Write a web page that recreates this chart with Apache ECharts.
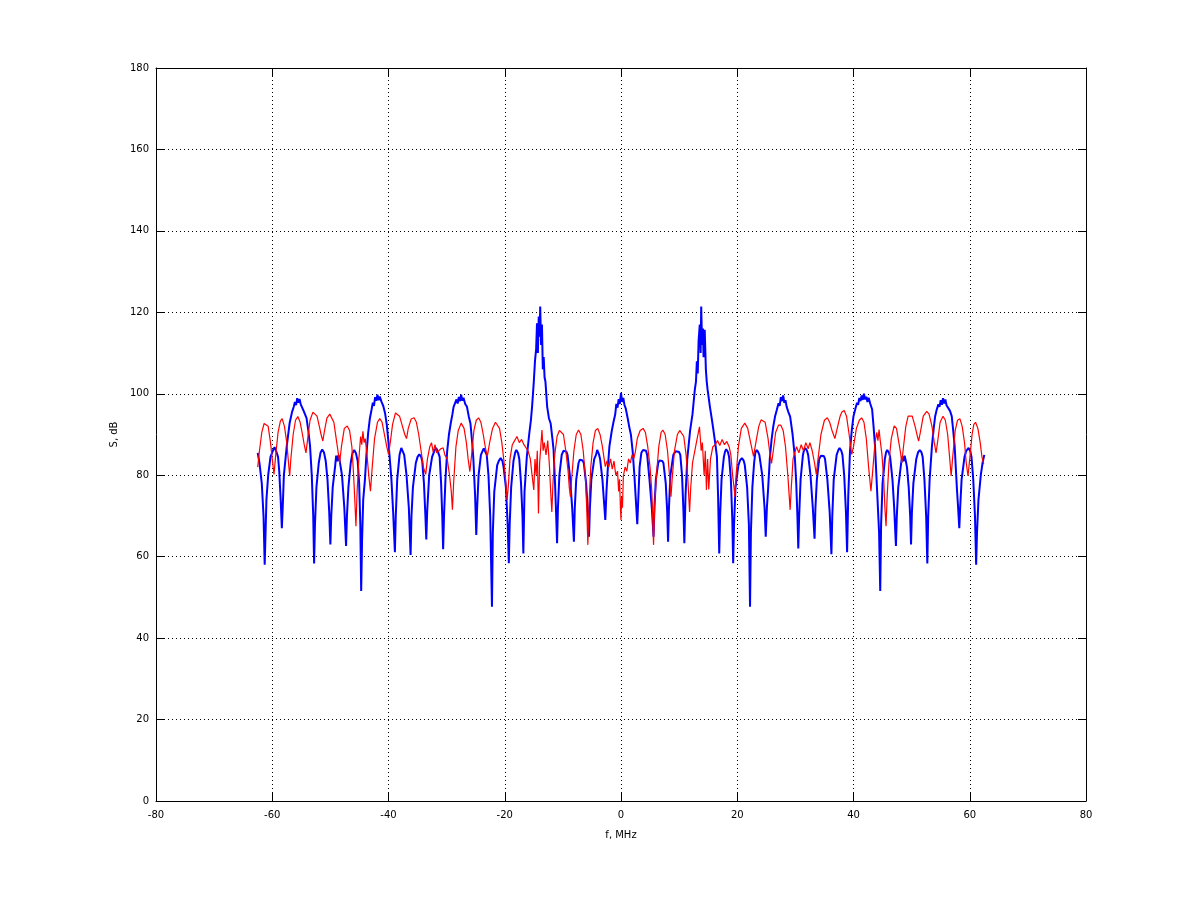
<!DOCTYPE html>
<html>
<head>
<meta charset="utf-8">
<title>S, dB</title>
<script src="https://cdn.jsdelivr.net/npm/echarts@6/dist/echarts.min.js"></script>
<style>
  html, body { margin: 0; padding: 0; background: #fff; }
  #main { width: 1200px; height: 901px; }
</style>
</head>
<body>
<div id="main"></div>
<script>
// axis ticks
var xTicks = [-80, 80, 20];
var yTicks = [0, 180, 20];

// blue trace, f (MHz) vs S (dB), negative side
var blueLeft = [
  [-62.5,85.5],[-62.2,83],[-61.8,78],[-61.5,70],[-61.3,58],[-61.15,66],[-61.0,74],[-60.7,80],[-60.3,84.5],[-59.9,86],[-59.6,86.9],[-59.3,85.8],[-59.0,84.5],[-58.8,81],[-58.55,74],[-58.35,67],[-58.2,72],[-58.0,80],
  [-57.5,87.2],[-57.0,92.9],[-56.6,95.5],[-56.3,96.8],[-56.1,98],[-55.9,97.2],[-55.7,98.9],[-55.5,97.8],[-55.3,98.7],[-55.1,97.4],[-54.9,97.6],[-54.6,95.8],[-54.1,94],[-53.8,91],[-53.5,87.2],[-53.2,80],[-52.95,70],[-52.8,58.3],
  [-52.65,68],[-52.4,77],[-52.0,83],[-51.7,85.5],[-51.4,86.3],[-51.1,85.6],[-50.8,83.5],[-50.5,79],[-50.2,71],[-50.0,63],[-49.85,70],[-49.6,77],[-49.2,82],[-49.0,84.8],[-48.8,83.4],[-48.6,85],[-48.4,83.6],[-48.0,80],[-47.6,72],[-47.3,62.6],
  [-47.15,70],[-46.9,77],[-46.5,83],[-46.2,85.4],[-45.9,86.2],[-45.6,85.4],[-45.3,83.5],[-45.05,78],[-44.85,68],[-44.7,51.6],[-44.55,64],[-44.35,74],[-44.05,79],[-43.8,85],[-43.5,90.4],[-43.2,94],[-42.9,96.2],[-42.7,97.8],[-42.5,97],
  [-42.3,99.2],[-42.1,98.3],[-41.9,99.8],[-41.7,98.4],[-41.5,99.3],[-41.2,98],[-40.9,97],[-40.6,95.3],[-40.3,92.5],[-40.0,88],[-39.5,79],[-39.2,71],[-38.9,61.1],[-38.75,70],[-38.5,79],[-38.1,85],[-37.8,86.7],[-37.3,85],[-36.9,80],[-36.5,72],
  [-36.2,60.4],[-36.05,70],[-35.8,77],[-35.3,83],[-35.0,84.5],[-34.7,85.1],[-34.4,84.6],[-34.2,83.5],[-33.9,78],[-33.65,70],[-33.5,64.2],[-33.35,71],[-33.0,80],[-32.5,84.5],[-32.1,86],[-31.8,86.7],[-31.5,85.8],[-31.2,84.5],[-30.95,78],[-30.75,70],[-30.6,61.8],
  [-30.45,70],[-30.2,79],[-29.9,86],[-29.6,90],[-29.3,92.7],[-29.0,95],[-28.8,96.8],[-28.5,97.2],[-28.3,98.6],[-28.1,97.6],[-27.9,99.2],[-27.7,98.2],[-27.5,99.8],[-27.3,98.3],[-27.1,99],[-26.8,97.5],[-26.5,96.8],[-26.2,94.5],[-25.9,92.7],[-25.6,88],[-25.4,84],[-25.1,75],[-24.9,65.3],
  [-24.75,72],[-24.5,80],[-24.1,85],[-23.8,86],[-23.6,86.6],[-23.3,85.6],[-23.1,85],[-22.8,80],[-22.5,70],[-22.2,47.7],[-22.05,66],[-21.8,76],[-21.3,82.5],[-21.0,83.6],[-20.7,84.2],[-20.4,83.5],[-20.2,82],[-19.8,77],[-19.5,68],[-19.3,58.4],
  [-19.15,68],[-18.9,77],[-18.5,83.5],[-18.2,85.6],[-18.0,86.2],[-17.7,85.4],[-17.5,84],[-17.2,78],[-16.95,70],[-16.8,60.8],[-16.6,76],[-16.2,84.6],[-15.8,90],[-15.5,93.5],[-15.3,96.8],[-15.0,103],[-14.8,108],[-14.6,111],[-14.45,117.3],
  [-14.3,110],[-14.15,119],[-14.0,114],[-13.9,121.4],[-13.75,112],[-13.6,117],[-13.45,106],[-13.3,109],[-13.15,104],[-13.0,103],[-12.7,96.8],[-12.4,94],[-12.1,92.7],[-11.8,89],[-11.6,86.2],[-11.35,78],[-11.15,70],[-11.0,63.3],
  [-10.85,72],[-10.6,80],[-10.2,85],[-9.9,86],[-9.7,86.4],[-9.4,85.8],[-9.2,85],[-8.8,80],[-8.4,72],[-8.1,63.7],[-7.95,72],[-7.7,79],[-7.3,83],[-7.1,83.8],[-6.9,84.2],[-6.6,83.6],[-6.4,83],[-6.0,78],[-5.7,71],[-5.5,64.9],
  [-5.35,72],[-5.1,79],[-4.6,84],[-4.3,85],[-4.1,86.2],[-3.8,85.2],[-3.6,84],[-3.2,79],[-2.9,73],[-2.7,69],[-2.5,76],[-2.3,81],[-2.0,87],[-1.6,90.8],[-1.3,93],[-1.0,94.9],[-0.8,97.5],[-0.6,96.6],[-0.4,98.7],[-0.2,97.5],[0.0,100.2]
];

// blue trace, positive side
var blueRight = [
  [0.2,98],[0.4,99],[0.6,97.2],[0.8,96.5],[1.15,94],[1.4,92],[1.7,90],[2.0,86],[2.3,80],[2.55,74],[2.8,68],[3.0,75],[3.2,82],[3.5,85.5],[3.8,86.2],[4.0,86.6],[4.3,86],[4.5,85],[4.9,79],[5.3,72],[5.6,64.9],
  [5.75,72],[6.0,79],[6.4,83],[6.6,83.6],[6.8,83.9],[7.1,83.5],[7.3,83],[7.7,78],[7.95,71],[8.1,63.7],[8.25,72],[8.5,80],[9.0,85],[9.4,85.9],[9.7,86.2],[10.0,85.7],[10.2,85],[10.5,80],[10.75,71],[10.9,63.3],
  [11.1,75],[11.4,84],[11.9,91.1],[12.3,95],[12.7,101],[12.9,103],[13.05,108],[13.2,105],[13.35,113],[13.55,117],[13.7,110],[13.8,121.4],[13.95,112],[14.1,116],[14.2,109],[14.4,115.7],[14.6,106],[14.75,103],[14.9,101],
  [15.3,96.8],[15.6,94],[15.9,91.1],[16.2,88],[16.5,84.6],[16.7,75],[16.9,60.8],[17.05,70],[17.3,79],[17.7,84.5],[17.9,85.8],[18.1,86.4],[18.4,85.7],[18.6,84.5],[18.9,79],[19.15,69],[19.3,58.4],
  [19.45,68],[19.7,77],[20.2,82.5],[20.5,83.7],[20.8,84.2],[21.1,83.6],[21.3,82.5],[21.7,77],[22.0,68],[22.2,47.7],[22.35,66],[22.6,77],[22.9,83],[23.1,85.4],[23.3,86.2],[23.6,85.7],[23.8,85],[24.3,80],[24.7,72],[24.9,64.9],
  [25.1,72],[25.3,76.4],[25.6,84],[25.9,88.7],[26.2,92],[26.5,94.4],[26.8,96],[27.1,97.7],[27.3,97],[27.5,99.2],[27.7,98.2],[27.9,99.6],[28.1,97.8],[28.3,98.4],[28.5,96.8],[28.8,95.5],[29.1,94.4],[29.5,90.3],[29.9,84.6],[30.15,78],[30.35,70],[30.5,62],
  [30.65,70],[30.9,79],[31.3,85],[31.5,86.2],[31.7,86.7],[32.0,86],[32.2,85],[32.6,80],[33.0,72],[33.3,64.4],[33.45,72],[33.7,79],[34.1,84],[34.4,84.8],[34.6,85.1],[34.9,84.7],[35.1,84],[35.5,79],[35.9,71],[36.2,60.6],
  [36.35,70],[36.6,79],[37.1,85],[37.4,86.2],[37.6,86.7],[37.9,86],[38.1,85],[38.4,80],[38.7,71],[38.9,61.1],[39.1,75],[39.4,86],[39.7,91],[40.0,94.5],[40.3,96.2],[40.6,97.8],[40.8,97.3],[41.0,99],[41.2,98.2],[41.4,99.6],
  [41.6,98.5],[41.8,100],[42.0,98.6],[42.2,99.3],[42.4,98],[42.6,99],[42.9,97.5],[43.2,96.2],[43.45,92],[43.7,87.2],[44.1,75],[44.4,66],[44.6,51.6],[44.75,68],[45.0,78],[45.4,84],[45.6,85.6],[45.8,86.2],[46.1,85.5],[46.3,84.5],[46.7,79],[47.0,72],[47.3,62.6],
  [47.45,70],[47.7,77],[48.2,83],[48.4,84.6],[48.6,83.4],[48.8,84.8],[49.0,83.5],[49.2,82],[49.5,77],[49.75,70],[49.9,63],[50.05,71],[50.3,78],[50.8,84],[51.1,85.6],[51.4,86.2],[51.7,85.6],[51.9,84.5],[52.2,79],[52.5,70],[52.7,58.3],
  [52.85,70],[53.1,79],[53.5,87.2],[53.8,91.5],[54.05,94.5],[54.3,96],[54.6,97.4],[54.8,96.8],[55.0,98.4],[55.2,97.3],[55.4,98.9],[55.6,97.6],[55.8,98.6],[56.0,97.2],[56.3,97],[56.6,95.8],[56.9,94.5],[57.15,91],[57.4,87.2],[57.8,76.5],[58.0,72],[58.2,67],
  [58.35,72],[58.6,79],[59.1,84.5],[59.4,86],[59.8,86.7],[60.1,85.9],[60.3,84.5],[60.6,79],[60.9,70],[61.1,58],[61.25,66],[61.5,74],[61.9,80],[62.2,83],[62.5,85]
];

// red trace, negative side
var redLeft = [
  [-62.5,82],[-62.2,86],[-61.8,90.5],[-61.4,92.7],[-61.1,93],[-60.7,92],[-60.3,88],[-60.0,84],[-59.7,80.2],[-59.4,85],[-59.0,90.5],[-58.6,93.3],[-58.3,93.9],[-57.9,92],[-57.5,88],[-57.2,83],[-57.0,79.8],
  [-56.8,84],[-56.4,90],[-56.0,93.5],[-55.6,94.4],[-55.2,93],[-54.8,90],[-54.5,87.5],[-54.2,85.5],[-53.9,89],[-53.5,93.5],[-53.0,95.5],[-52.7,95.6],[-52.3,94.5],[-51.9,92],[-51.6,90],[-51.3,88.4],
  [-51.0,91],[-50.6,94],[-50.1,95],[-49.8,94.9],[-49.4,93],[-49.0,89],[-48.7,86],[-48.4,83],[-48.1,87],[-47.6,91.5],[-47.1,92.1],[-46.7,91],[-46.3,87],[-46.0,80],[-45.8,74],[-45.6,67.5],
  [-45.4,76],[-45.1,84],[-44.8,89.5],[-44.6,87.5],[-44.4,90.8],[-44.2,88],[-44.0,89],[-43.7,85],[-43.4,80],[-43.1,76.1],[-42.8,82],[-42.4,89],[-41.9,93],[-41.5,93.9],[-41.1,93],[-40.7,90],[-40.3,87],[-40.0,85.1],
  [-39.7,88],[-39.3,92.5],[-38.8,95.3],[-38.5,95.7],[-38.1,94.5],[-37.6,92],[-37.2,90],[-36.9,89],[-36.6,91.5],[-36.1,93.8],[-35.6,94.1],[-35.2,93],[-34.8,90],[-34.4,86],[-34.0,82],[-33.6,80.2],
  [-33.3,84],[-32.9,87],[-32.6,88],[-32.3,85.6],[-32.0,87.5],[-31.7,85.5],[-31.4,85.1],[-31.0,86.5],[-30.6,86.7],[-30.3,85],[-29.9,84],[-29.5,80],[-29.2,76],[-29.0,71.5],
  [-28.8,78],[-28.4,87],[-28.0,91],[-27.5,92.8],[-27.0,91.5],[-26.6,88],[-26.3,84],[-26.0,80.9],[-25.7,85],[-25.3,91],[-24.9,93.5],[-24.5,94.1],[-24.1,93],[-23.7,90],[-23.3,86.5],[-23.0,84.6],
  [-22.6,88],[-22.1,91.5],[-21.6,93],[-21.3,93],[-20.9,91.5],[-20.5,88],[-20.1,83],[-19.8,78],[-19.6,73.9],[-19.35,78],[-19.1,84],[-18.7,87.5],[-18.3,88.5],[-17.9,89.5],[-17.5,88],[-17.1,88.8],[-16.7,87.5],[-16.4,87.8],
  [-16.0,86],[-15.6,84],[-15.3,80],[-15.0,76.4],[-14.8,84],[-14.6,80],[-14.4,86],[-14.2,70.6],[-14.0,83],[-13.8,87],[-13.6,91.1],[-13.4,86],[-13.2,88],[-12.9,85],[-12.6,88.5],[-12.3,82],[-12.1,76],[-11.9,71],
  [-11.7,78],[-11.4,85],[-11.0,89.5],[-10.6,91],[-10.3,91.3],[-9.9,90],[-9.5,86],[-9.1,81],[-8.9,77],[-8.7,74.7],[-8.5,79],[-8.1,86],[-7.7,90],[-7.3,91.1],[-6.9,90],[-6.5,86],[-6.1,79],[-5.9,72],[-5.7,62.9],
  [-5.5,73],[-5.2,82],[-4.8,88],[-4.4,91],[-4.0,91.5],[-3.6,90],[-3.2,87],[-2.9,84],[-2.7,82.1],[-2.4,83.5],[-2.1,82],[-1.8,84],[-1.5,81.5],[-1.2,83.5],[-0.9,80],[-0.6,81],[-0.4,76],[-0.25,79],[-0.1,72],[0.0,69]
];

// red trace, positive side
var redRight = [
  [0.1,74.7],[0.25,72],[0.4,79.7],[0.7,82],[1.0,81],[1.3,84],[1.6,83],[1.9,85],[2.2,84],[2.5,86],[2.8,89],[3.3,91],[3.8,91.5],[4.2,90.5],[4.6,87],[5.0,82],[5.3,76],[5.6,62.9],
  [5.8,73],[6.1,80],[6.5,87],[6.9,90.5],[7.2,91.1],[7.6,90],[8.0,86],[8.4,79],[8.6,74.7],[8.8,79],[9.2,86],[9.7,90],[10.1,91],[10.4,91.1],[10.8,89.5],[11.2,85],[11.5,79],[11.8,71],
  [12.0,77],[12.3,83],[12.7,86],[13.1,89],[13.5,91.9],[13.8,86],[14.0,88],[14.3,80],[14.5,86],[14.7,76.4],[14.9,84],[15.1,76.5],[15.4,84],[15.8,87],[16.2,87.5],[16.6,88.5],[17.0,87.3],[17.4,88.8],[17.8,87.5],[18.2,88.3],[18.6,87],
  [18.9,85],[19.2,80],[19.45,77],[19.6,74.7],[19.8,80],[20.2,87],[20.7,91.5],[21.3,92.8],[21.8,91.5],[22.3,88],[22.8,84.6],[23.2,88],[23.7,92],[24.1,93.6],[24.4,94],[24.8,93],[25.3,89],[25.6,85.5],[25.9,82.9],
  [26.2,86],[26.6,90.5],[27.1,92.3],[27.5,92.3],[27.9,91],[28.3,87],[28.7,80],[29.1,71.5],[29.3,77],[29.6,84],[30.2,87],[30.6,85.5],[31.0,87.5],[31.4,86],[31.8,88],[32.2,86.5],[32.5,88],[32.9,86],[33.3,83],[33.6,80.2],
  [33.9,84],[34.4,90],[35.0,93.5],[35.5,94.1],[35.9,93],[36.3,91],[36.8,89],[37.2,91.5],[37.7,94.5],[38.0,95.5],[38.4,95.9],[38.8,94.5],[39.2,90.5],[39.7,85.1],
  [40.0,87],[40.5,91.5],[41.0,93.5],[41.4,94.1],[41.8,93],[42.2,89],[42.6,82],[43.0,76.1],[43.3,81],[43.7,88],[44.0,90.5],[44.2,88.5],[44.4,91.2],[44.6,88.5],[44.9,85],[45.2,79],[45.4,72],[45.6,67.5],
  [45.8,75],[46.1,83],[46.5,89],[47.0,92.1],[47.4,91.5],[47.8,88],[48.1,85.5],[48.3,83],[48.6,87],[49.0,92],[49.4,94.5],[49.7,94.9],[50.1,94.5],[50.6,92],[51.0,89.5],[51.2,88.4],
  [51.5,90.5],[52.0,94.5],[52.6,95.7],[53.0,95],[53.5,92],[53.9,88],[54.2,85.5],[54.5,88.5],[54.9,93],[55.4,94.5],[55.8,93.5],[56.2,90],[56.5,85],[56.8,79.8],
  [57.1,85],[57.5,91],[57.9,93.5],[58.3,93.9],[58.7,92],[59.1,88],[59.4,83],[59.7,79.8],[60.0,84],[60.4,90],[60.7,92.5],[61.0,93],[61.4,91.5],[61.8,88],[62.1,84.5],[62.4,82.7]
];

var myChart = echarts.init(document.getElementById('main'));

var labelFont = { fontFamily: 'DejaVu Sans', fontSize: 10, color: '#000' };
var dotted = { color: '#000', width: 1, type: [1, 3] };

function xAxisOf(pos, show) {
  return {
    type: 'value', position: pos, min: xTicks[0], max: xTicks[1], interval: xTicks[2],
    name: show ? 'f, MHz' : '', nameLocation: 'middle', nameGap: 29,
    nameTextStyle: labelFont,
    axisLine: { show: true, onZero: false, lineStyle: { color: '#000', width: 1 } },
    axisTick: { show: true, inside: true, length: 8, lineStyle: { color: '#000' } },
    axisLabel: Object.assign({ show: show, margin: 9 }, labelFont),
    splitLine: { show: show, lineStyle: dotted }
  };
}

function yAxisOf(pos, show) {
  return {
    type: 'value', position: pos, min: yTicks[0], max: yTicks[1], interval: yTicks[2],
    name: show ? 'S, dB' : '', nameLocation: 'middle', nameGap: 33,
    nameTextStyle: labelFont,
    axisLine: { show: true, onZero: false, lineStyle: { color: '#000', width: 1 } },
    axisTick: { show: true, inside: true, length: 8, lineStyle: { color: '#000' } },
    axisLabel: Object.assign({ show: show, margin: 7 }, labelFont),
    splitLine: { show: show, lineStyle: dotted }
  };
}

var option = {
  backgroundColor: '#fff',
  animation: false,
  grid: { left: 156, top: 68, width: 930, height: 733, containLabel: false },
  xAxis: [xAxisOf('bottom', true), xAxisOf('top', false)],
  yAxis: [yAxisOf('left', true), yAxisOf('right', false)],
  series: [
    {
      name: 'blue', type: 'line', xAxisIndex: 0, yAxisIndex: 0,
      data: blueLeft.concat(blueRight),
      showSymbol: false, symbol: 'none',
      lineStyle: { color: '#0000ff', width: 2 }
    },
    {
      name: 'red', type: 'line', xAxisIndex: 0, yAxisIndex: 0,
      data: redLeft.concat(redRight),
      showSymbol: false, symbol: 'none',
      lineStyle: { color: '#ff0000', width: 1.2 }
    }
  ]
};

myChart.setOption(option);
</script>
</body>
</html>
